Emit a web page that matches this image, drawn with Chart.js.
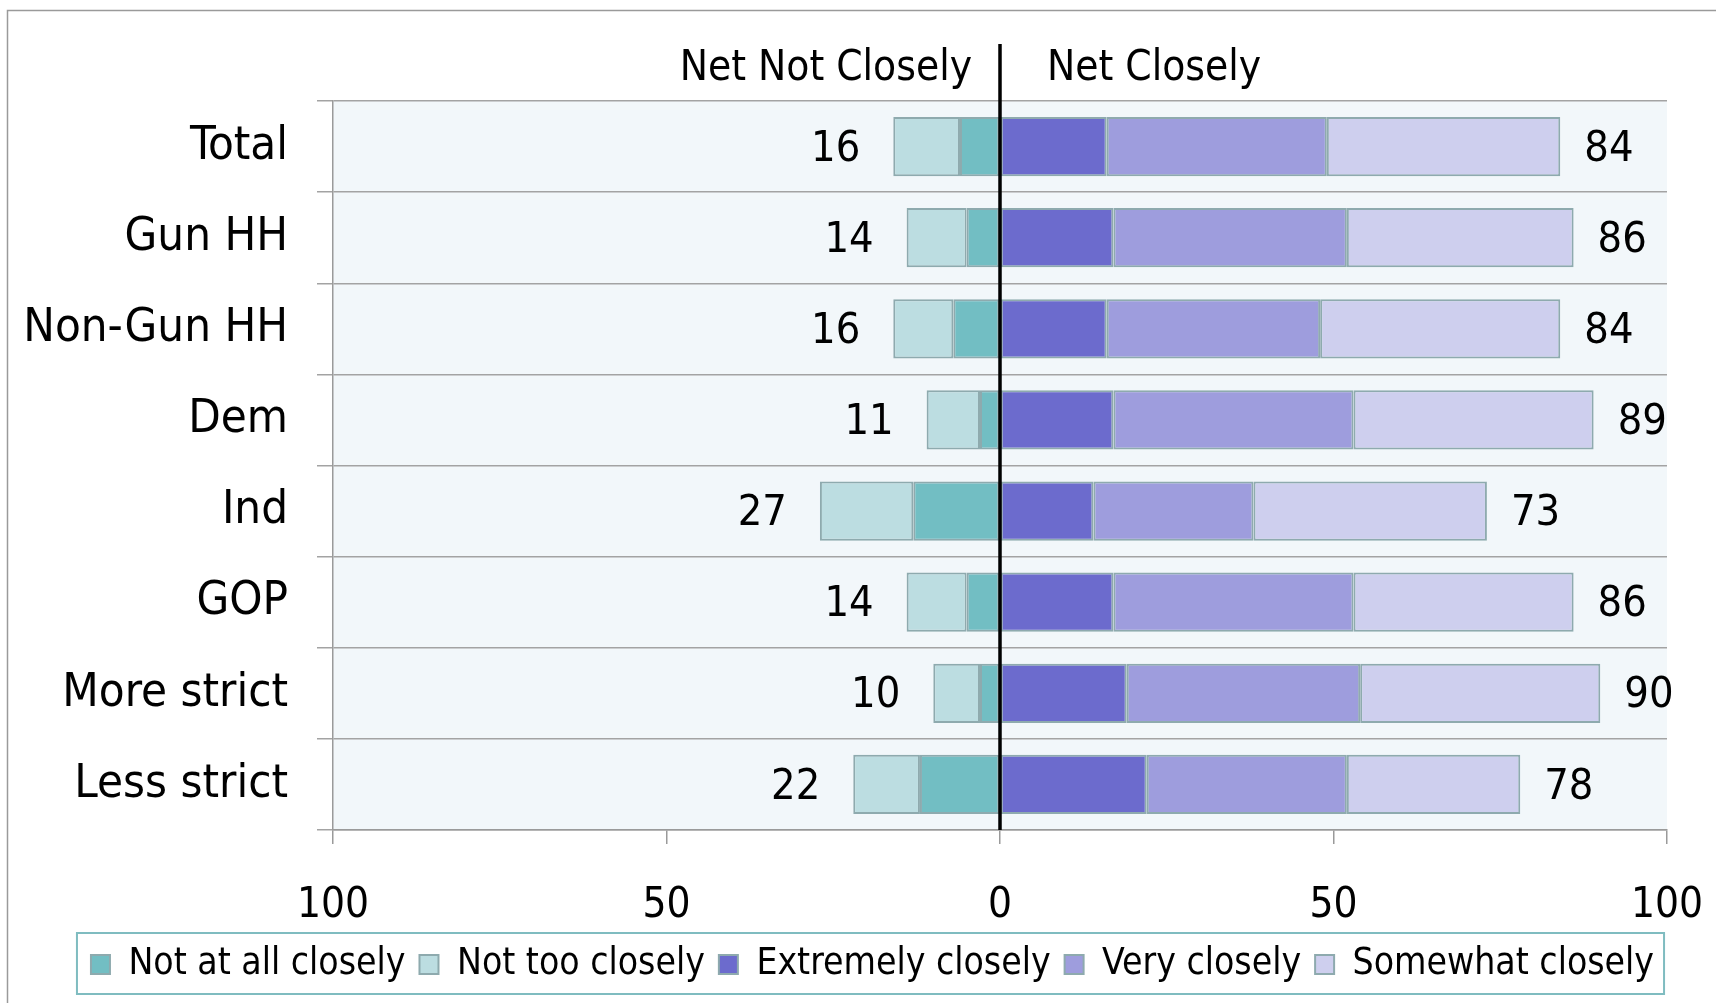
<!DOCTYPE html>
<html>
<head>
<meta charset="utf-8">
<script src="https://cdn.jsdelivr.net/npm/chart.js@4.4.1/dist/chart.umd.min.js"></script>
<style>
body { margin: 0; background: #fff; }
</style>
</head>
<body>
<canvas id="chart" width="1716" height="1003"></canvas>
<script>
const categories = ['Total', 'Gun HH', 'Non-Gun HH', 'Dem', 'Ind', 'GOP', 'More strict', 'Less strict'];
const notAtAll = [6, 5, 7, 3, 13, 5, 3, 12];
const notToo = [10, 9, 9, 8, 14, 9, 7, 10];
const extremely = [16, 17, 16, 17, 14, 17, 19, 22];
const very = [33, 35, 32, 36, 24, 36, 35, 30];
const somewhat = [35, 34, 36, 36, 35, 33, 36, 26];
const netNot = [16, 14, 16, 11, 27, 14, 10, 22];
const netClosely = [84, 86, 84, 89, 73, 86, 90, 78];
const xTicks = [-100, -50, 0, 50, 100];

const FONT = '"DejaVu Sans Condensed", "DejaVu Sans", sans-serif';
const edge = '#8eaaae';
const LEGEND_SHIFT = 39;

// fond du graphique + cadre
const backdrop = {
    id: 'backdrop',
    afterUpdate(chart) {
        // decale la legende vers la droite comme dans l'original
        const lg = chart.legend;
        lg.left += LEGEND_SHIFT;
        lg.right += LEGEND_SHIFT;
        lg.legendHitBoxes.forEach(b => { b.left += LEGEND_SHIFT; });
    },
    beforeDraw(chart) {
        const { ctx, chartArea: a } = chart;
        ctx.save();
        ctx.fillStyle = '#f2f7fa';
        ctx.fillRect(a.left, a.top, a.right - a.left, a.bottom - a.top);
        ctx.strokeStyle = '#9a9a9a';
        ctx.lineWidth = 1.5;
        ctx.strokeRect(7.5, 10.5, chart.width + 20, chart.height + 20);
        ctx.restore();
    }
};

const overlay = {
    id: 'overlay',
    afterDatasetsDraw(chart) {
        const { ctx, chartArea: a } = chart;
        const x = chart.scales.x, y = chart.scales.y;
        const zero = x.getPixelForValue(0);
        ctx.save();
        // ligne du zero
        ctx.strokeStyle = '#000';
        ctx.lineWidth = 3.5;
        ctx.beginPath();
        ctx.moveTo(zero, 44);
        ctx.lineTo(zero, a.bottom);
        ctx.stroke();

        ctx.fillStyle = '#000';
        ctx.font = '42px ' + FONT;
        ctx.textBaseline = 'middle';
        ctx.textAlign = 'right';
        ctx.fillText('Net Not Closely', zero - 28, 69);
        ctx.textAlign = 'left';
        ctx.fillText('Net Closely', zero + 47, 69);

        // totaux
        ctx.font = '43px ' + FONT;
        categories.forEach((c, i) => {
            const cy = y.getPixelForValue(i) + 3;
            ctx.textAlign = 'right';
            ctx.fillText(String(netNot[i]), x.getPixelForValue(-netNot[i]) - 33, cy);
            ctx.textAlign = 'left';
            ctx.fillText(String(netClosely[i]), x.getPixelForValue(netClosely[i]) + 24, cy);
        });
        ctx.restore();
    },
    afterDraw(chart) {
        const boxes = chart.legend.legendHitBoxes;
        if (!boxes || !boxes.length) return;
        const first = boxes[0], last = boxes[boxes.length - 1];
        const ctx = chart.ctx;
        ctx.save();
        ctx.strokeStyle = '#7fbcc0';
        ctx.lineWidth = 2;
        ctx.strokeRect(first.left - 14, first.top - 13,
            last.left + last.width - first.left + 24, first.height + 24);
        ctx.restore();
    }
};

const ds = (label, data, color) => ({
    label: label,
    data: data,
    backgroundColor: color,
    borderColor: edge,
    borderWidth: 2,
    borderSkipped: false,
    categoryPercentage: 1,
    barPercentage: 0.65
});

new Chart(document.getElementById('chart'), {
    type: 'bar',
    data: {
        labels: categories,
        datasets: [
            ds('Not at all closely', notAtAll.map(v => -v), '#72bec3'),
            ds('Not too closely', notToo.map(v => -v), '#bcdde1'),
            ds('Extremely closely', extremely, '#6c6bcd'),
            ds('Very closely', very, '#9e9ddd'),
            ds('Somewhat closely', somewhat, '#cecfee')
        ]
    },
    options: {
        indexAxis: 'y',
        responsive: false,
        animation: false,
        layout: { padding: { top: 101, right: 49, bottom: 10, left: 0 } },
        scales: {
            x: {
                stacked: true,
                min: -100,
                max: 100,
                afterBuildTicks(axis) { axis.ticks = xTicks.map(v => ({ value: v })); },
                afterFit(axis) { axis.height = 102; },
                ticks: {
                    callback: v => Math.abs(v),
                    color: '#000',
                    font: { family: FONT, size: 42, lineHeight: '104px' },
                    padding: 10,
                    maxRotation: 0
                },
                grid: { drawOnChartArea: false, drawTicks: true, tickLength: 14, color: '#9a9a9a', lineWidth: 1.5 },
                border: { color: '#9a9a9a', width: 1.5 }
            },
            y: {
                stacked: true,
                afterFit(axis) { axis.width = 333; },
                ticks: {
                    color: '#000',
                    font: { family: FONT, size: 47 },
                    padding: 29
                },
                grid: { color: '#a3a3a3', lineWidth: 1.5, tickLength: 16 },
                border: { color: '#9a9a9a', width: 1.5 }
            }
        },
        plugins: {
            tooltip: { enabled: false },
            legend: {
                position: 'bottom',
                labels: {
                    color: '#000',
                    font: { family: FONT, size: 37 },
                    boxWidth: 19,
                    boxHeight: 19,
                    padding: 14
                }
            }
        }
    },
    plugins: [backdrop, overlay]
});
</script>
</body>
</html>
